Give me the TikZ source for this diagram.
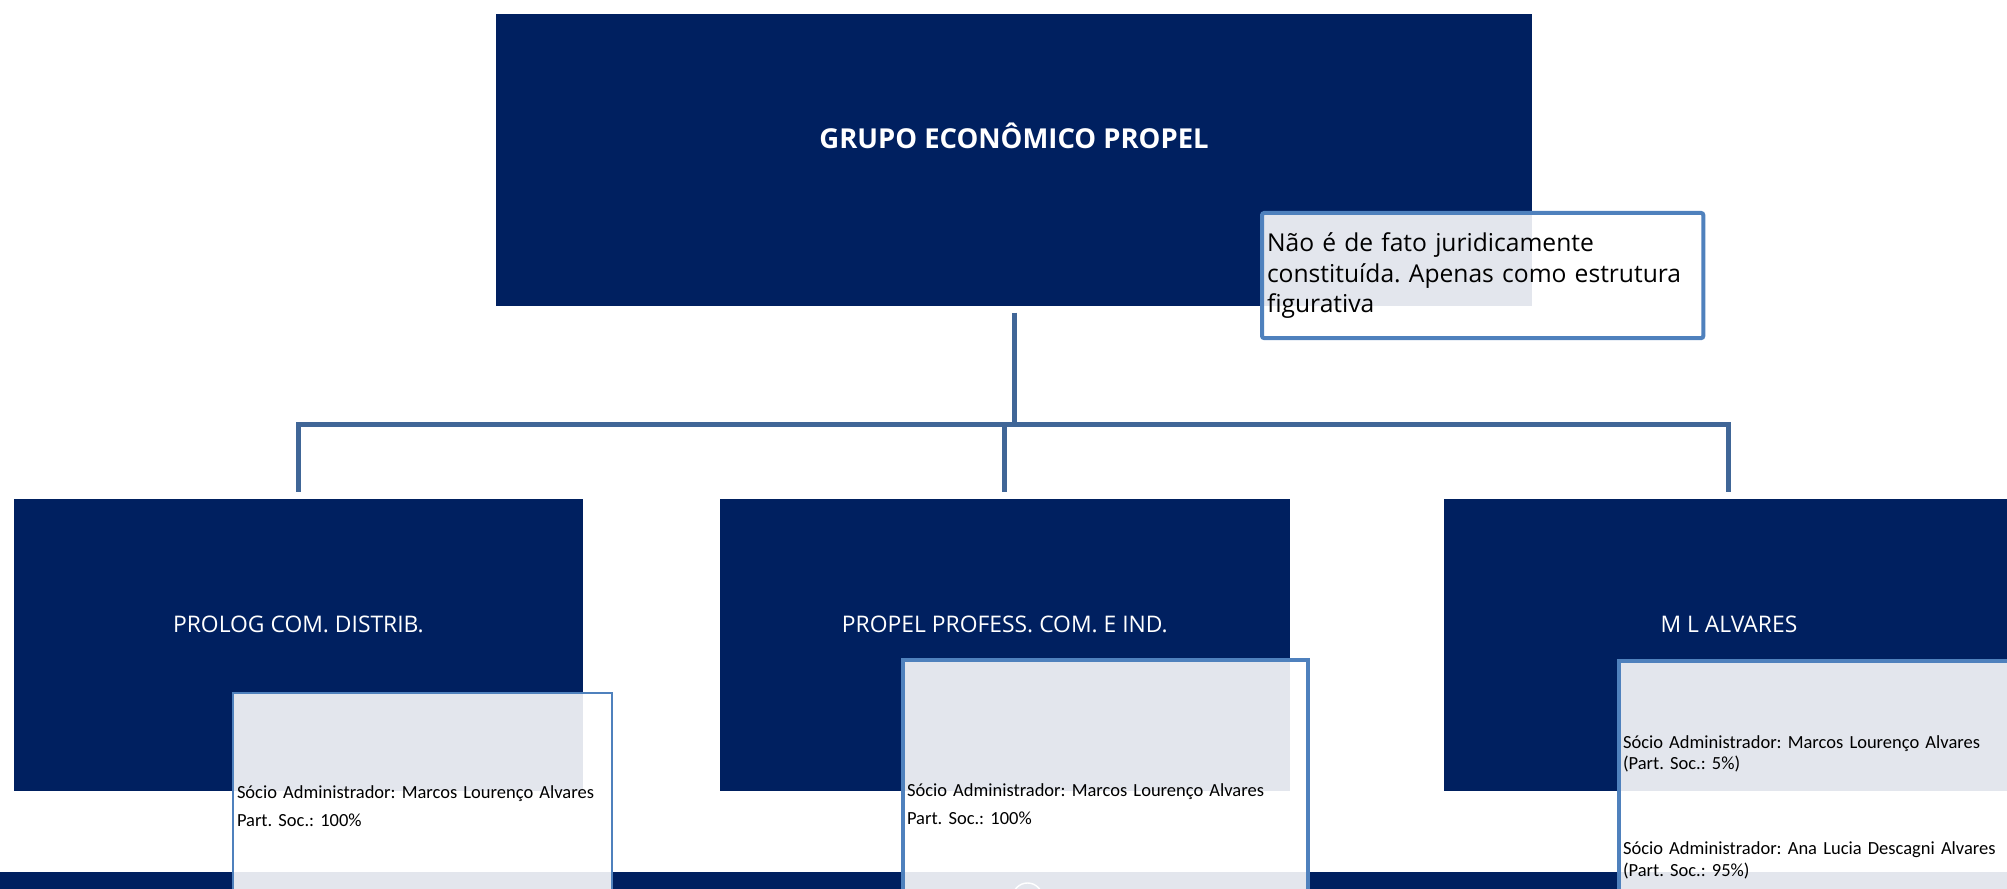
\documentclass[tikz,border=0pt]{standalone}
\usepackage{fontspec}
\setmainfont{Open Sans}
\newfontfamily\calibri{Carlito}
\usetikzlibrary{positioning}

\definecolor{navy}{RGB}{0,32,96}
\definecolor{linkblue}{RGB}{64,102,151}
\definecolor{noteblue}{RGB}{79,129,189}

\tikzset{
  firm/.style={fill=navy, draw=none, anchor=north west, inner sep=0pt,
    minimum width=5.70cm, minimum height=2.92cm},
  firmname/.style={text=white, anchor=base, inner sep=0pt,
    font=\fontsize{6.5}{8}\selectfont},
  link/.style={draw=linkblue, line width=1.42pt},
  note/.style={draw=noteblue, line width=1.14pt, fill=white, fill opacity=0.89,
    text opacity=1, anchor=north west, align=left, inner xsep=0.04cm},
  partner/.style={note, font=\calibri\fontsize{5.26}{7.97}\selectfont}
}

\begin{document}
\frenchspacing
\begin{tikzpicture}[x=0.01cm,y=-0.01cm]
\useasboundingbox (0,0) rectangle (2007,889);
\clip (0,0) rectangle (2007,889);

\fill[navy] (0,872) rectangle (2007,900);
\draw[white, line width=0.4pt] (1027.5,898) circle (0.15cm);

\node[firm, minimum width=10.36cm] (grp) at (495,13) {};
\node[firm, minimum width=5.69cm] (prolog) at (13,498) {};
\node[firm] (propel) at (719,498) {};
\node[firm] (mla) at (1443,498) {};

\node[firmname, font=\bfseries\fontsize{7.8}{9}\selectfont] (grpT)
  at ([yshift=0.11cm]grp.center) {GRUPO ECONÔMICO PROPEL};
\node[firmname] (prologT) at ([yshift=0.12cm]prolog.center) {PROLOG COM. DISTRIB.};
\node[firmname] (propelT) at ([yshift=0.12cm]propel.center) {PROPEL PROFESS. COM. E IND.};
\node[firmname] (mlaT) at ([yshift=0.12cm]mla.center) {M L ALVARES};

\coordinate (bus) at (0,425);
\draw[link] ([yshift=-0.06cm]grp.south) -- (grp.south |- bus);
\draw[link] ([yshift=0.06cm]prolog.north) |- (bus -| mla.north)
  -- ([yshift=0.06cm]mla.north);
\draw[link] ([yshift=0.06cm]propel.north) -- (propel.north |- bus);

\node[note, rounded corners=0.6pt, inner xsep=0.05cm, text width=4.31cm,
  minimum height=1.25cm, font=\fontsize{7.0}{8.7}\selectfont] (nota) at (1260,211)
  {Não é de fato juridicamente\\constituída. Apenas como estrutura\\figurativa};

\node[partner, line width=0.57pt, text width=3.71cm, minimum height=2.26cm] (socA)
  at (232,692) {Sócio Administrador: Marcos Lourenço Alvares\\Part. Soc.: 100\%};
\node[partner, text width=3.97cm, minimum height=2.88cm] (socB)
  at (901,658) {Sócio Administrador: Marcos Lourenço Alvares\\Part. Soc.: 100\%};
\node[partner, text width=4.4cm, minimum height=2.92cm,
  font=\calibri\fontsize{5.26}{6.06}\selectfont] (socC) at (1617,659)
  {Sócio Administrador: Marcos Lourenço Alvares\\(Part. Soc.: 5\%)\\[18.1pt]
   Sócio Administrador: Ana Lucia Descagni Alvares\\(Part. Soc.: 95\%)};

\end{tikzpicture}
\end{document}
